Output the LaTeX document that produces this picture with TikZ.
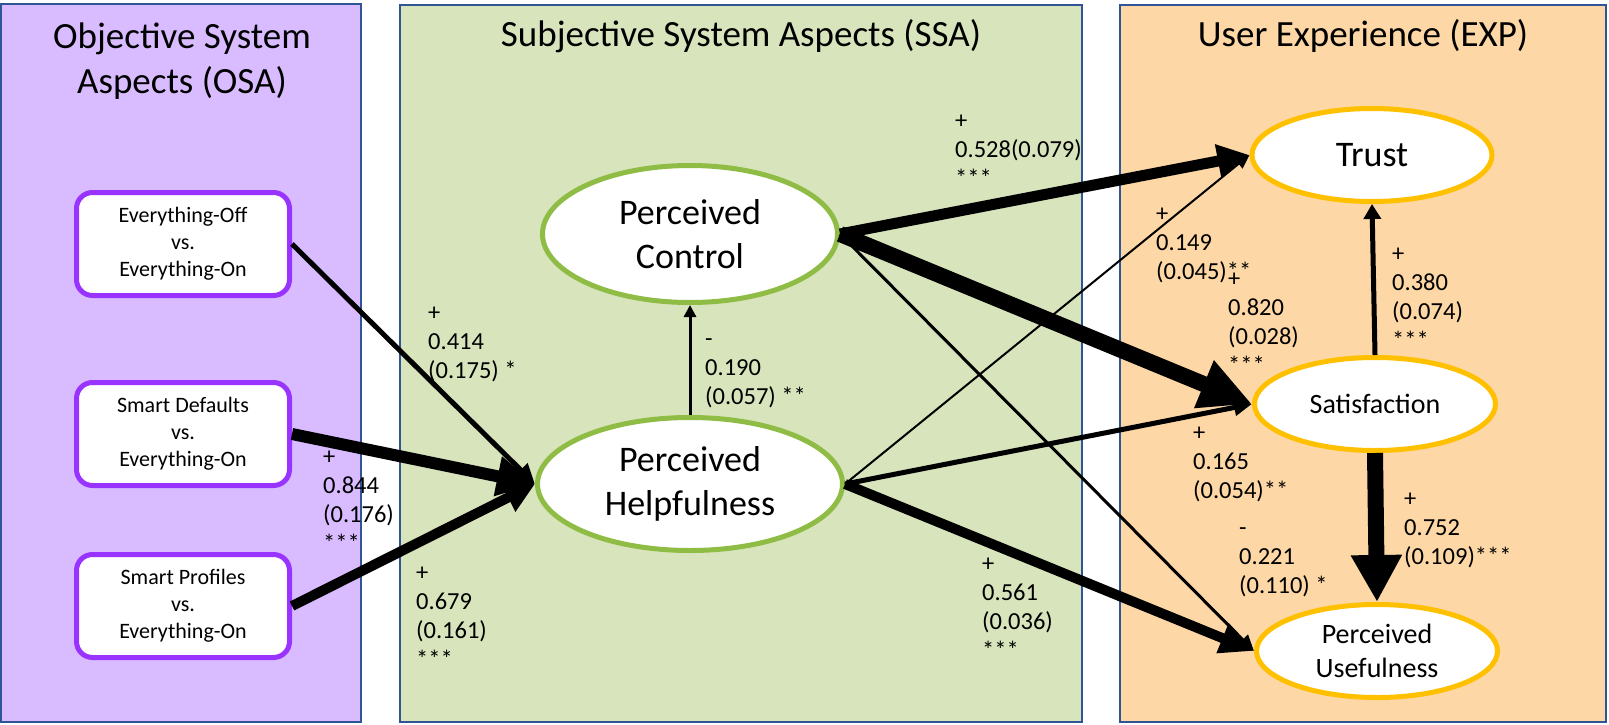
\documentclass[tikz,border=0pt]{standalone}
\usepackage{fontspec}
\setmainfont{Carlito}
\usetikzlibrary{arrows.meta,shapes.geometric}
\definecolor{osafill}{HTML}{D9BCFF}
\definecolor{ssafill}{HTML}{D8E4BC}
\definecolor{expfill}{HTML}{FDD7A5}
\definecolor{panelborder}{HTML}{2F5597}
\definecolor{boxpurple}{HTML}{9933FF}
\definecolor{ellgreen}{HTML}{8FBC45}
\definecolor{ellgold}{HTML}{FFC000}
\begin{document}
\begin{tikzpicture}[x=1pt,y=-1pt,
  panel/.style={draw=panelborder,line width=1.5pt},
  condbox/.style={draw=boxpurple,line width=5pt,fill=white,rounded corners=16pt,minimum width=213pt,minimum height=103pt,inner sep=0pt,align=center,font=\fontsize{22}{27}\selectfont},
  ssaell/.style={ellipse,draw=ellgreen,line width=5pt,fill=white,inner sep=0pt,align=center,font=\fontsize{36}{44}\selectfont},
  expell/.style={ellipse,draw=ellgold,line width=5pt,fill=white,inner sep=0pt,align=center},
  coef/.style={inner sep=0pt,align=left,anchor=west,font=\fontsize{24.5}{29}\selectfont},
  ttl/.style={inner sep=0pt,align=center,font=\fontsize{37}{45}\selectfont},
  edge/.style={draw=black},
]
\useasboundingbox (0,0) rectangle (1609,725);
% panels
\path[panel,fill=osafill] (1,4) rectangle (361,722);
\path[panel,fill=ssafill] (400,5) rectangle (1082,722);
\path[panel,fill=expfill] (1120,5) rectangle (1606,722);
% titles
\node[ttl] (tosa) at (182,61.5) {\strut Objective System\\\strut Aspects (OSA)};
\node[ttl,anchor=base] (tssa) at (741,47) {Subjective System Aspects (SSA)};
\node[ttl,anchor=base] (texp) at (1363,47) {User Experience (EXP)};
% condition boxes
\node[condbox] (b1) at (183,244) {Everything-Off\\vs.\\Everything-On};
\node[condbox] (b2) at (183,434) {Smart Defaults\\vs.\\Everything-On};
\node[condbox] (b3) at (183,606) {Smart Profiles\\vs.\\Everything-On};
% constructs
\node[ssaell,minimum width=295pt,minimum height=137pt] (pc) at (690,234) {Perceived\\Control};
\node[ssaell,minimum width=305pt,minimum height=133pt] (ph) at (690,484) {Perceived\\Helpfulness};
\node[expell,font=\fontsize{36}{44}\selectfont,minimum width=240pt,minimum height=93pt] (trust) at (1372,155) {Trust};
\node[expell,font=\fontsize{28}{34}\selectfont,minimum width=241pt,minimum height=93pt] (sat) at (1375,404) {Satisfaction};
\node[expell,font=\fontsize{28}{34}\selectfont,minimum width=241pt,minimum height=93pt] (pu) at (1377,651) {Perceived\\Usefulness};
% edges
\draw[edge,line width=5pt,-{Triangle[length=20pt,width=18pt]}] (b1.east) -- (ph.west);
\draw[edge,line width=12pt,-{Triangle[length=38pt,width=38pt]}] (b2.east) -- (ph.west);
\draw[edge,line width=10pt,-{Triangle[length=30pt,width=30pt]}] (b3.east) -- (ph.west);
\draw[edge,line width=3pt,-{Triangle[length=12pt,width=12pt]}] (ph.north) -- (pc.south);
\draw[edge,line width=11pt,-{Triangle[length=32pt,width=32pt]}] (pc.east) -- (trust.west);
\draw[edge,line width=16pt,-{Triangle[length=52pt,width=48pt]}] (pc.east) -- (sat.west);
\draw[edge,line width=3pt,-{Triangle[length=16pt,width=14pt]}] (pc.east) -- (pu.west);
\draw[edge,line width=2pt,-{Triangle[length=14pt,width=12pt]}] (ph.east) -- (trust.west);
\draw[edge,line width=5pt,-{Triangle[length=18pt,width=16pt]}] (ph.east) -- (sat.west);
\draw[edge,line width=10pt,-{Triangle[length=34pt,width=30pt]}] (ph.east) -- (pu.west);
\draw[edge,line width=5pt,-{Triangle[length=15pt,width=17pt]}] (sat.north) -- (trust.south);
\draw[edge,line width=16pt,-{Triangle[length=47pt,width=48pt]}] (sat.south) -- (pu.north);
% coefficients
\node[coef] (lA) at (428,343.7) {\strut+\\\strut0.414\\\strut(0.175) *};
\node[coef] (lB) at (323,502.2) {\strut+\\\strut0.844\\\strut(0.176)\\\strut***};
\node[coef] (lC) at (416,618.2) {\strut+\\\strut0.679\\\strut(0.161)\\\strut***};
\node[coef] (lD) at (705,369.7) {\strut-\\\strut0.190\\\strut(0.057) **};
\node[coef] (lE) at (955,151.7) {\strut+\\\strut0.528(0.079)\\\strut***};
\node[coef] (lF) at (982,609.2) {\strut+\\\strut0.561\\\strut(0.036)\\\strut***};
\node[coef] (lG) at (1156,244.7) {\strut+\\\strut0.149\\\strut(0.045)**};
\node[coef] (lH) at (1228,324.2) {\strut+\\\strut0.820\\\strut(0.028)\\\strut***};
\node[coef] (lI) at (1392,299.2) {\strut+\\\strut0.380\\\strut(0.074)\\\strut***};
\node[coef] (lJ) at (1193,463.7) {\strut+\\\strut0.165\\\strut(0.054)**};
\node[coef] (lK) at (1239,558.7) {\strut-\\\strut0.221\\\strut(0.110) *};
\node[coef] (lL) at (1404,529.7) {\strut+\\\strut0.752\\\strut(0.109)***};
\end{tikzpicture}
\end{document}
